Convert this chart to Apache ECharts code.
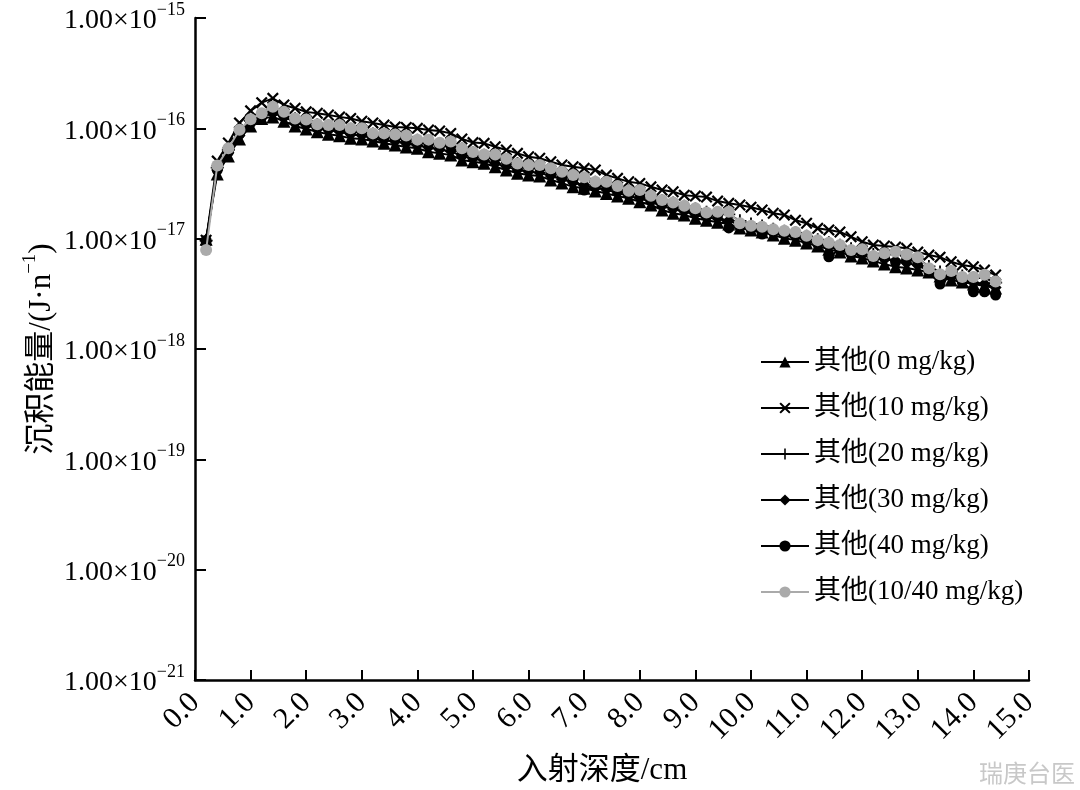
<!DOCTYPE html>
<html>
<head>
<meta charset="utf-8">
<script src="https://cdn.jsdelivr.net/npm/echarts@6/dist/echarts.min.js"></script>
<style>
html,body{margin:0;padding:0;background:#fff;}
#chart{width:1080px;height:790px;}
</style>
</head>
<body>
<div id="chart"></div>
<script>
// Depth (cm)
const depth = [0.2,0.4,0.6,0.8,1.0,1.2,1.4,1.6,1.8,2.0,2.2,2.4,2.6,2.8,3.0,3.2,3.4,3.6,3.8,4.0,4.2,4.4,4.6,4.8,5.0,5.2,5.4,5.6,5.8,6.0,6.2,6.4,6.6,6.8,7.0,7.2,7.4,7.6,7.8,8.0,8.2,8.4,8.6,8.8,9.0,9.2,9.4,9.6,9.8,10.0,10.2,10.4,10.6,10.8,11.0,11.2,11.4,11.6,11.8,12.0,12.2,12.4,12.6,12.8,13.0,13.2,13.4,13.6,13.8,14.0,14.2,14.4];

const names = ['其他(0 mg/kg)','其他(10 mg/kg)','其他(20 mg/kg)','其他(30 mg/kg)','其他(40 mg/kg)','其他(10/40 mg/kg)'];

// y-axis decade ticks
const yTicks = [1e-21,1e-20,1e-19,1e-18,1e-17,1e-16,1e-15];

const s0 = [9.9e-18,3.85e-17,5.61e-17,8.0e-17,1.05e-16,1.23e-16,1.27e-16,1.16e-16,1.05e-16,9.86e-17,9.31e-17,8.82e-17,8.57e-17,8.11e-17,8.0e-17,7.67e-17,7.31e-17,7.06e-17,6.77e-17,6.59e-17,6.14e-17,5.93e-17,5.73e-17,5.16e-17,4.98e-17,4.82e-17,4.49e-17,4.19e-17,3.91e-17,3.77e-17,3.69e-17,3.40e-17,3.19e-17,2.95e-17,2.86e-17,2.70e-17,2.57e-17,2.43e-17,2.32e-17,2.16e-17,2.02e-17,1.82e-17,1.70e-17,1.64e-17,1.53e-17,1.47e-17,1.41e-17,1.36e-17,1.25e-17,1.20e-17,1.15e-17,1.08e-17,1.01e-17,9.7e-18,9.12e-18,8.57e-18,8.0e-18,7.56e-18,6.95e-18,6.67e-18,6.26e-18,5.88e-18,5.56e-18,5.41e-18,5.19e-18,4.98e-18,4.58e-18,4.21e-18,4.04e-18,3.88e-18,3.72e-18,3.57e-18];

const s10 = [9.7e-18,5.05e-17,7.36e-17,1.12e-16,1.44e-16,1.71e-16,1.87e-16,1.63e-16,1.52e-16,1.41e-16,1.37e-16,1.32e-16,1.27e-16,1.23e-16,1.16e-16,1.12e-16,1.07e-16,1.03e-16,1.02e-16,1.00e-16,9.65e-17,9.45e-17,9.0e-17,8.0e-17,7.43e-17,7.31e-17,6.81e-17,6.36e-17,5.93e-17,5.53e-17,5.35e-17,4.98e-17,4.65e-17,4.49e-17,4.34e-17,4.19e-17,3.77e-17,3.52e-17,3.28e-17,3.17e-17,2.95e-17,2.76e-17,2.66e-17,2.48e-17,2.43e-17,2.38e-17,2.19e-17,2.09e-17,2.02e-17,1.93e-17,1.82e-17,1.70e-17,1.64e-17,1.47e-17,1.38e-17,1.24e-17,1.20e-17,1.15e-17,1.04e-17,9.37e-18,8.75e-18,8.57e-18,8.39e-18,8.17e-18,7.56e-18,7.10e-18,6.8e-18,6.17e-18,5.76e-18,5.56e-18,5.19e-18,4.68e-18];

const s20 = [9.6e-18,4.4e-17,6.4e-17,9.2e-17,1.17e-16,1.33e-16,1.48e-16,1.38e-16,1.22e-16,1.16e-16,1.08e-16,1.05e-16,1.03e-16,9.8e-17,9.6e-17,8.9e-17,8.7e-17,8.5e-17,8.3e-17,7.8e-17,7.6e-17,7.3e-17,7.2e-17,6.5e-17,6.0e-17,5.7e-17,5.5e-17,5.2e-17,4.8e-17,4.6e-17,4.5e-17,4.2e-17,3.95e-17,3.7e-17,3.5e-17,3.25e-17,3.2e-17,2.95e-17,2.7e-17,2.65e-17,2.42e-17,2.22e-17,2.1e-17,1.97e-17,1.86e-17,1.74e-17,1.7e-17,1.66e-17,1.45e-17,1.36e-17,1.3e-17,1.22e-17,1.17e-17,1.13e-17,1.05e-17,9.8e-18,9.2e-18,8.7e-18,8.1e-18,7.9e-18,7.2e-18,7.3e-18,7.2e-18,7.0e-18,6.6e-18,5.6e-18,5.0e-18,5.0e-18,4.6e-18,4.4e-18,4.4e-18,4.0e-18];

const s30 = [9.4e-18,4.2e-17,6.0e-17,8.6e-17,1.10e-16,1.27e-16,1.36e-16,1.28e-16,1.13e-16,1.06e-16,1.0e-16,9.6e-17,9.3e-17,8.8e-17,8.6e-17,8.1e-17,7.8e-17,7.6e-17,7.3e-17,7.0e-17,6.7e-17,6.4e-17,6.2e-17,5.6e-17,5.3e-17,5.1e-17,4.8e-17,4.5e-17,4.2e-17,4.05e-17,3.95e-17,3.7e-17,3.45e-17,3.22e-17,3.08e-17,2.88e-17,2.78e-17,2.6e-17,2.42e-17,2.32e-17,2.15e-17,1.98e-17,1.85e-17,1.76e-17,1.65e-17,1.55e-17,1.52e-17,1.46e-17,1.32e-17,1.25e-17,1.2e-17,1.13e-17,1.07e-17,1.03e-17,9.5e-18,8.9e-18,8.4e-18,7.9e-18,7.3e-18,7.1e-18,6.6e-18,6.6e-18,6.3e-18,6.0e-18,5.7e-18,5.1e-18,4.6e-18,4.6e-18,4.2e-18,4.0e-18,3.9e-18,3.6e-18];

const s40 = [9.7e-18,4.19e-17,6.10e-17,8.88e-17,1.12e-16,1.27e-16,1.41e-16,1.29e-16,1.14e-16,1.12e-16,1.01e-16,9.86e-17,9.86e-17,9.26e-17,9.26e-17,8.34e-17,8.34e-17,8.17e-17,7.83e-17,7.36e-17,7.36e-17,6.91e-17,6.91e-17,5.73e-17,5.61e-17,5.38e-17,5.38e-17,4.95e-17,4.46e-17,4.37e-17,4.37e-17,4.02e-17,3.69e-17,3.47e-17,2.76e-17,3.0e-17,3.0e-17,2.76e-17,2.54e-17,2.54e-17,2.24e-17,2.06e-17,1.98e-17,1.86e-17,1.74e-17,1.60e-17,1.64e-17,1.25e-17,1.27e-17,1.22e-17,1.10e-17,1.15e-17,1.10e-17,1.08e-17,9.7e-18,8.93e-18,6.85e-18,8.0e-18,7.25e-18,7.40e-18,6.40e-18,6.67e-18,6.13e-18,6.53e-18,6.13e-18,4.98e-18,3.88e-18,4.58e-18,4.04e-18,3.30e-18,3.30e-18,3.08e-18];

const s1040 = [7.9e-18,4.6e-17,6.6e-17,9.7e-17,1.21e-16,1.37e-16,1.57e-16,1.41e-16,1.23e-16,1.20e-16,1.09e-16,1.07e-16,1.07e-16,1.00e-16,1.00e-16,9.0e-17,9.0e-17,8.8e-17,8.6e-17,7.9e-17,7.9e-17,7.4e-17,7.6e-17,6.6e-17,6.1e-17,5.8e-17,5.8e-17,5.3e-17,4.8e-17,4.65e-17,4.65e-17,4.34e-17,4.04e-17,3.77e-17,3.6e-17,3.28e-17,3.28e-17,3.0e-17,2.72e-17,2.76e-17,2.45e-17,2.24e-17,2.13e-17,1.99e-17,1.89e-17,1.73e-17,1.75e-17,1.75e-17,1.38e-17,1.31e-17,1.28e-17,1.22e-17,1.18e-17,1.15e-17,1.06e-17,9.7e-18,9.2e-18,8.75e-18,7.9e-18,8.0e-18,6.95e-18,7.36e-18,7.6e-18,7.2e-18,6.8e-18,5.4e-18,4.75e-18,5.1e-18,4.5e-18,4.5e-18,4.7e-18,4.1e-18];

const SERIF = '"Liberation Serif","Times New Roman","Noto Sans CJK SC",serif';
const CROSS = 'path://M0,1.3 L1.3,0 L5,3.7 L8.7,0 L10,1.3 L6.3,5 L10,8.7 L8.7,10 L5,6.3 L1.3,10 L0,8.7 L3.7,5 Z';
const PLUS = 'path://M4.3,0 H5.7 V4.3 H10 V5.7 H5.7 V10 H4.3 V5.7 H0 V4.3 H4.3 Z';

function pairs(arr){ return depth.map((d,i)=>[d, arr[i]]); }

const styles = [
  {data:s0, symbol:'triangle', size:13, color:'#000'},
  {data:s10, symbol:CROSS, size:12, color:'#000'},
  {data:s20, symbol:PLUS, size:13, color:'#000'},
  {data:s30, symbol:'diamond', size:12, color:'#000'},
  {data:s40, symbol:'circle', size:11, color:'#000'},
  {data:s1040, symbol:'circle', size:12, color:'#aaaaaa'}
];

const chart = echarts.init(document.getElementById('chart'), null, {renderer:'canvas'});
chart.setOption({
  animation:false,
  backgroundColor:'#fff',
  grid:{left:195, right:51, top:18, bottom:110, outerBoundsMode:'none'},
  legend:{
    orient:'vertical', left:755, top:343,
    itemWidth:48, itemHeight:14, itemGap:18,
    textStyle:{fontFamily:SERIF, fontSize:27, color:'#000', lineHeight:28},
    data:names
  },
  xAxis:{
    type:'value', min:0, max:15, interval:1,
    axisLine:{show:true, lineStyle:{color:'#000', width:2.5}},
    axisTick:{show:true, inside:true, length:10, lineStyle:{color:'#000', width:2}},
    splitLine:{show:false},
    axisLabel:{rotate:45, margin:18, fontFamily:SERIF, fontSize:30, color:'#000',
      showMinLabel:true, showMaxLabel:true, hideOverlap:false,
      formatter:v=>Number(v).toFixed(1)},
    name:'入射深度/cm', nameLocation:'middle', nameGap:75, nameMoveOverlap:false,
    nameTextStyle:{fontFamily:SERIF, fontSize:31, color:'#000', padding:[0,20,0,0]}
  },
  yAxis:{
    type:'log', logBase:10, min:1e-21, max:1e-15,
    axisLine:{show:true, lineStyle:{color:'#000', width:2.5}},
    axisTick:{show:true, inside:true, length:11, lineStyle:{color:'#000', width:2}, customValues:yTicks},
    splitLine:{show:false},
    axisLabel:{margin:10, color:'#000', customValues:yTicks,
      formatter:v=>{const e=Math.round(Math.log10(v)); return '{a|1.00×10}{b|−'+(-e)+'}';},
      rich:{
        a:{fontFamily:SERIF, fontSize:28, color:'#000', lineHeight:34, verticalAlign:'bottom'},
        b:{fontFamily:SERIF, fontSize:18, color:'#000', lineHeight:18, verticalAlign:'top'}
      }
    },
    name:'{a|沉积能量/(J·n}{b|−1}{a|)}', nameLocation:'middle', nameGap:138, nameRotate:90,
    nameMoveOverlap:false,
    nameTextStyle:{
      rich:{
        a:{fontFamily:SERIF, fontSize:31, color:'#000', lineHeight:36, verticalAlign:'bottom'},
        b:{fontFamily:SERIF, fontSize:19, color:'#000', lineHeight:19, verticalAlign:'top'}
      }
    }
  },
  graphic:[{type:'text', right:5, bottom:5, style:{text:'瑞庚台医', fontFamily:'"Noto Sans CJK SC",sans-serif', fontSize:24, fill:'#c8c8c8'}}],
  series: styles.map((s,i)=>({
    name:names[i], type:'line', data:pairs(s.data),
    symbol:s.symbol, symbolSize:s.size, showAllSymbol:true,
    lineStyle:{color:s.color, width:2},
    itemStyle:{color:s.color, borderWidth:0},
    z:2+i
  }))
});
</script>
</body>
</html>
